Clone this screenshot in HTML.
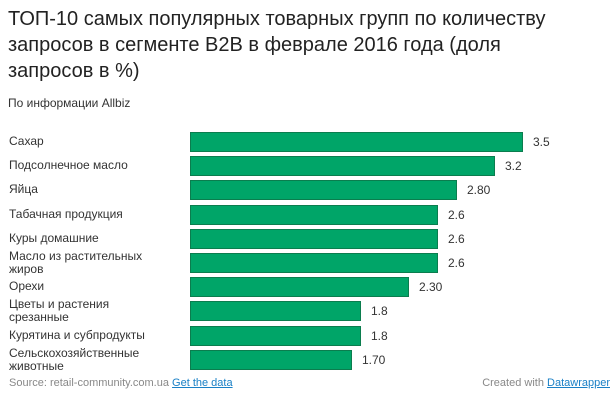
<!DOCTYPE html>
<html><head><meta charset="utf-8"><style>
body{margin:0;width:615px;height:416px;background:#fff;font-family:"Liberation Sans","DejaVu Sans",sans-serif;color:#333;position:relative;overflow:hidden}
h1{position:absolute;left:8px;top:6px;margin:0;font-size:20px;font-weight:normal;line-height:26px;color:#222;width:590px}
.sub{position:absolute;left:8px;top:96px;font-size:12px;color:#333}
.lab{position:absolute;left:9px;font-size:12px;line-height:13px;color:#333;width:170px}
.bar{position:absolute;left:190px;height:20px;background:#00a568;box-sizing:border-box;border:1px solid #0b7d4e}
.val{position:absolute;font-size:12px;color:#333}
.foot{position:absolute;top:377px;font-size:11px;color:#888}
.foot a{color:#1a80c6;text-decoration:underline}
</style></head><body>
<h1>ТОП-10 самых популярных товарных групп по количеству<br>запросов в сегменте B2B в феврале 2016 года (доля<br>запросов в %)</h1>
<div class="sub">По информации Allbiz</div>
<div id="c"></div>
<script>
var d=[["Сахар",3.5,"3.5"],["Подсолнечное масло",3.2,"3.2"],["Яйца",2.8,"2.80"],["Табачная продукция",2.6,"2.6"],["Куры домашние",2.6,"2.6"],["Масло из растительных<br>жиров",2.6,"2.6"],["Орехи",2.3,"2.30"],["Цветы и растения<br>срезанные",1.8,"1.8"],["Курятина и субпродукты",1.8,"1.8"],["Сельскохозяйственные<br>животные",1.7,"1.70"]];
var h="";d.forEach(function(r,i){var c=142+i*24.2,w=Math.round(r[1]*95.2);var two=r[0].indexOf("<br>")>0;
h+='<div class="lab" style="top:'+(c-(two?13:7))+'px">'+r[0]+'</div><div class="bar" style="top:'+(c-10)+'px;width:'+w+'px"></div><div class="val" style="top:'+(c-7)+'px;left:'+(190+w+10)+'px">'+r[2]+'</div>';});
document.getElementById("c").innerHTML=h;
</script>
<div class="foot" style="left:9px">Source: retail-community.com.ua <a>Get the data</a></div>
<div class="foot" style="right:5px">Created with <a>Datawrapper</a></div>
</body></html>
